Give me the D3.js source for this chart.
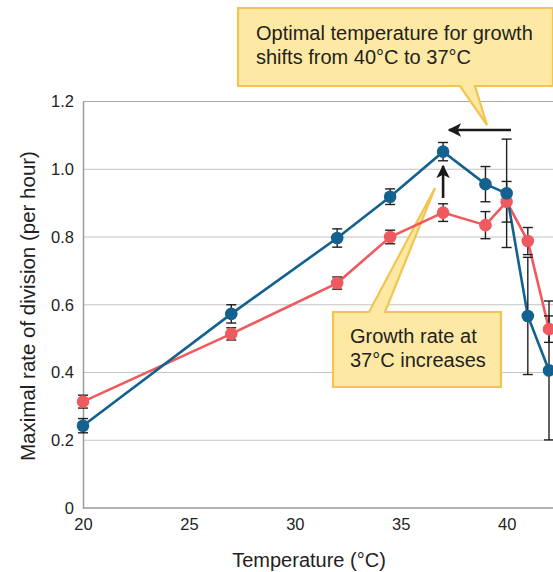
<!DOCTYPE html>
<html>
<head>
<meta charset="utf-8">
<script src="https://cdn.jsdelivr.net/npm/d3@7/dist/d3.min.js"></script>
<style>
  html, body { margin: 0; padding: 0; background: #fff; }
  svg { display: block; font-family: "Liberation Sans", Arial, Helvetica, sans-serif; }
</style>
</head>
<body>
<svg id="chart" width="553" height="572"></svg>
<script>
// Growth temperature (°C) and maximal division rate (per hour) for two strains
const temperatures = [20, 27, 32, 34.5, 37, 39, 40, 41, 42];
const evolvedRate  = [0.243, 0.573, 0.797, 0.919, 1.052, 0.956, 0.929, 0.567, 0.406];
const evolvedErr   = [0.021, 0.027, 0.027, 0.023, 0.027, 0.052, 0.160, 0.173, 0.205];
const ancestorRate = [0.314, 0.514, 0.664, 0.800, 0.872, 0.835, 0.904, 0.788, 0.528];
const ancestorErr  = [0.019, 0.018, 0.018, 0.020, 0.026, 0.040, 0.060, 0.040, 0.039];
const xTicks = [20, 25, 30, 35, 40];
const yTicks = [0, 0.2, 0.4, 0.6, 0.8, 1.0, 1.2];
const calloutTop = ["Optimal temperature for growth", "shifts from 40°C to 37°C"];
const calloutBottom = ["Growth rate at", "37°C increases"];

const svg = d3.select("#chart");
const W = 553;
const x = d3.scaleLinear().domain([20, 42]).range([83, 549]);
const y = d3.scaleLinear().domain([0, 1.2]).range([508, 101.5]);

const BLUE = "#12618e";
const RED = "#ef5a5e";
const BOX_FILL = "#fde9a3";
const BOX_STROKE = "#f3c44f";

// grid lines and frame
svg.append("g").selectAll("line")
  .data(yTicks.filter(d => d > 0))
  .join("line")
  .attr("x1", x(20)).attr("x2", W)
  .attr("y1", d => y(d)).attr("y2", d => y(d))
  .attr("stroke", d => d === 1.2 ? "#a8a8a8" : "#c4c4c4")
  .attr("stroke-width", 1.2);

// axes
const yAxis = d3.axisLeft(y).tickValues(yTicks)
  .tickFormat(d => d === 0 ? "0" : d3.format(".1f")(d))
  .tickSize(0).tickPadding(9);
const gy = svg.append("g").attr("transform", `translate(${x(20)},0)`).call(yAxis);
gy.select(".domain").attr("stroke", "#9a9a9a").attr("stroke-width", 1.5);
gy.selectAll("text").attr("font-size", 16.5).attr("fill", "#231f20")
  .attr("font-family", "Liberation Sans, Arial, sans-serif");

const xAxis = d3.axisBottom(x).tickValues(xTicks).tickSize(0).tickPadding(10);
const gx = svg.append("g").attr("transform", `translate(0,${y(0)})`).call(xAxis);
gx.select(".domain").attr("stroke", "#9a9a9a").attr("stroke-width", 1.5)
  .attr("d", `M${x(20)},0H${W}`);
gx.selectAll("text").attr("font-size", 16.5).attr("fill", "#231f20")
  .attr("font-family", "Liberation Sans, Arial, sans-serif");

// axis titles
svg.append("text")
  .attr("x", 309).attr("y", 567)
  .attr("text-anchor", "middle")
  .attr("font-size", 20).attr("fill", "#231f20")
  .text("Temperature (°C)");
svg.append("text")
  .attr("transform", "translate(35,306) rotate(-90)")
  .attr("text-anchor", "middle")
  .attr("font-size", 20.5).attr("fill", "#231f20")
  .text("Maximal rate of division (per hour)");

// callout boxes with pointer tails
function callout(box, tail, lines, textX, baseY) {
  const [x0, y0, x1, y1] = box;
  const onTop = tail.side === "top";
  const path = d3.path();
  path.moveTo(x0, y0);
  if (onTop) {
    path.lineTo(tail.a, y0); path.lineTo(tail.tx, tail.ty); path.lineTo(tail.b, y0);
  }
  path.lineTo(x1, y0);
  path.lineTo(x1, y1);
  if (!onTop) {
    path.lineTo(tail.b, y1); path.lineTo(tail.tx, tail.ty); path.lineTo(tail.a, y1);
  }
  path.lineTo(x0, y1);
  path.closePath();
  svg.append("path").attr("d", path.toString())
    .attr("fill", BOX_FILL).attr("stroke", BOX_STROKE)
    .attr("stroke-width", 2.2).attr("stroke-linejoin", "miter");
  svg.append("g").selectAll("text").data(lines).join("text")
    .attr("x", textX).attr("y", (d, i) => baseY + i * 23.5)
    .attr("font-size", 20).attr("fill", "#231f20")
    .text(d => d);
}
callout([238, 8, 553, 86], { side: "bottom", a: 460, b: 475, tx: 487, ty: 125 },
  calloutTop, 256, 40);
callout([333, 312, 501, 387], { side: "top", a: 369, b: 385, tx: 435, ty: 188 },
  calloutBottom, 350, 343);

// series: error bars, connecting lines and markers
const series = [
  { rate: ancestorRate, err: ancestorErr, color: RED },
  { rate: evolvedRate, err: evolvedErr, color: BLUE }
];
const line = d3.line().x(d => x(d.t)).y(d => y(d.v));

series.forEach(s => {
  const pts = temperatures.map((t, i) => ({ t, v: s.rate[i], e: s.err[i] }));
  svg.append("path").datum(pts)
    .attr("d", line).attr("fill", "none")
    .attr("stroke", s.color).attr("stroke-width", 2.6);
  s.pts = pts;
});

series.forEach(s => {
  const g = svg.append("g").attr("stroke", "#231f20").attr("stroke-width", 1.4);
  s.pts.forEach(p => {
    const cx = x(p.t), top = y(p.v + p.e), bot = y(p.v - p.e);
    g.append("line").attr("x1", cx).attr("x2", cx).attr("y1", top).attr("y2", bot);
    g.append("line").attr("x1", cx - 5).attr("x2", cx + 5).attr("y1", top).attr("y2", top);
    g.append("line").attr("x1", cx - 5).attr("x2", cx + 5).attr("y1", bot).attr("y2", bot);
  });
});

series.forEach(s => {
  svg.append("g").selectAll("circle").data(s.pts).join("circle")
    .attr("cx", d => x(d.t)).attr("cy", d => y(d.v)).attr("r", 6.3)
    .attr("fill", s.color);
});

// annotation arrows
const defs = svg.append("defs");
defs.append("marker").attr("id", "head")
  .attr("viewBox", "0 0 10 10").attr("refX", 9).attr("refY", 5)
  .attr("markerWidth", 5.2).attr("markerHeight", 5.2)
  .attr("markerUnits", "strokeWidth").attr("orient", "auto")
  .append("path").attr("d", "M0,0 L10,5 L0,10 L2.6,5 Z").attr("fill", "#1a1a1a");

svg.append("line")
  .attr("x1", 511).attr("y1", 130).attr("x2", 449).attr("y2", 130)
  .attr("stroke", "#1a1a1a").attr("stroke-width", 2.6)
  .attr("marker-end", "url(#head)");
svg.append("line")
  .attr("x1", x(37)).attr("y1", 198).attr("x2", x(37)).attr("y2", 166)
  .attr("stroke", "#1a1a1a").attr("stroke-width", 2.6)
  .attr("marker-end", "url(#head)");
</script>
</body>
</html>
